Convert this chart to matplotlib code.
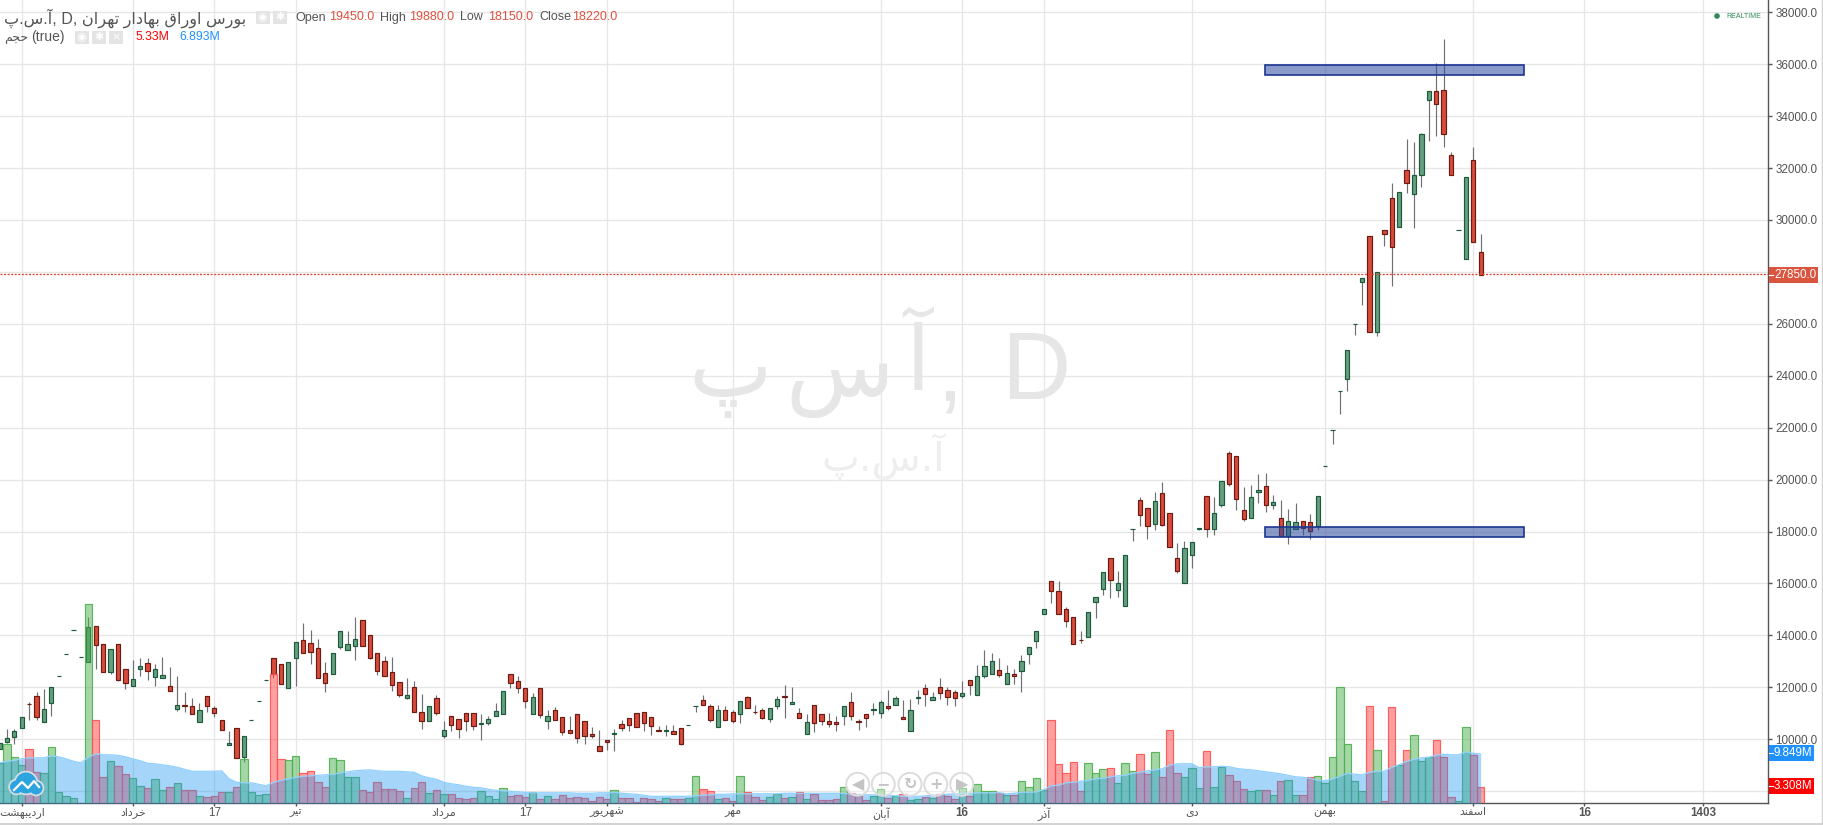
#!/usr/bin/env python3
# Daily candlestick chart with volume panel, TradingView look

import matplotlib
matplotlib.use('Agg')
import matplotlib.pyplot as plt
from matplotlib.patches import Rectangle, Circle
from matplotlib.lines import Line2D

plt.rcParams['font.family'] = ['Liberation Sans', 'DejaVu Sans']

W, H = 1823, 825

# bars are numbered so that the first month gridline is bar 0
first_bar = -3

opens = [9620, 9900, 10080, 10420, 11350, 11650, 10680, 11410, 12420, 13270, 14190, 13150,
         12960, 14350, 13650, 12600, 13650, 12690, 12060, 12720, 12920, 12410, 12370, 12040,
         11180, 11310, 11270, 10650, 11650, 11190, 10730, 9760, 10420, 9310, 10730, 11460,
         12270, 13120, 12880, 11960, 13120, 13810, 13690, 13500, 12540, 12500, 13540, 13420,
         13580, 14580, 14000, 13310, 13000, 12580, 12190, 11600, 12000, 11040, 10690, 11580,
         10120, 10880, 10770, 11000, 11000, 10580, 10620, 10880, 10960, 12500, 12230, 11960,
         10960, 11960, 10690, 11120, 10850, 10350, 10960, 10690, 10190, 9730, 9960, 10190,
         10580, 10810, 11000, 11040, 10850, 10350, 10310, 10310, 10420, 10540, 11270, 11490,
         11270, 10460, 11120, 11040, 10960, 11620, 11040, 11120, 10770, 11270, 11650, 11350,
         11000, 10190, 11310, 10960, 10690, 10650, 10890, 11420, 10690, 10960, 11120, 11000,
         11270, 11310, 10850, 10310, 11580, 11960, 11500, 12000, 11890, 11810, 11650, 12270,
         11690, 12420, 12500, 12650, 12120, 12500, 12620, 13270, 13780, 14820, 16090, 15710,
         15010, 14710, 13830, 13940, 15280, 15780, 16970, 15740, 15130, 18090, 19210, 18900,
         18280, 19470, 18710, 16970, 16010, 17090, 18090, 19360, 18090, 19010, 21010, 20900,
         18820, 18510, 19510, 19740, 19010, 18510, 17820, 18090, 18400, 18360, 18210, 20510,
         21920, 23420, 23890, 26000, 27620, 29390, 25680, 29620, 30850, 29730, 31920, 31000,
         31730, 34620, 34960, 35000, 32500, 29620, 28500, 32310, 28770]
highs = [9850, 10380, 10380, 10850, 11420, 11810, 11940, 12000, 12420, 13270, 14190, 13150,
         14690, 14350, 13650, 13460, 13650, 12690, 13050, 13130, 13120, 12900, 13170, 12770,
         12440, 11820, 11580, 11400, 11650, 11280, 10730, 10320, 10420, 10120, 10730, 11460,
         12270, 13120, 12880, 12960, 13730, 14460, 14190, 13850, 12960, 13310, 14150, 14150,
         14690, 14580, 14000, 13310, 13210, 13150, 12190, 12350, 12230, 11730, 11270, 11690,
         10700, 10880, 10770, 11000, 11000, 10960, 10880, 11380, 11850, 12500, 12420, 11960,
         11770, 11960, 11120, 11230, 10850, 10900, 10960, 10690, 10470, 10350, 9960, 10380,
         10730, 10810, 11000, 11040, 10850, 10510, 10540, 10540, 10420, 10540, 11270, 11690,
         11350, 11310, 11270, 11120, 11460, 11650, 11310, 11190, 11190, 11650, 12080, 12000,
         11190, 10960, 11310, 10960, 11000, 10890, 11270, 11810, 10770, 10960, 11390, 11500,
         11890, 11650, 11500, 11540, 11890, 12130, 11820, 12350, 12000, 11890, 12230, 12270,
         12860, 13440, 13310, 13120, 12860, 12690, 13240, 13550, 14170, 15010, 16090, 16090,
         15090, 14710, 14180, 14900, 15470, 16440, 16970, 16470, 17090, 18090, 19320, 18900,
         19530, 19900, 18710, 17550, 17630, 17590, 18130, 19360, 19320, 19940, 21090, 20900,
         19710, 19780, 20210, 20240, 19400, 19210, 18860, 19090, 18400, 18670, 19360, 20510,
         21920, 23420, 25000, 26000, 27770, 29390, 28000, 29620, 31440, 31080, 33120, 33000,
         33350, 34960, 36040, 36960, 32620, 29620, 31650, 32810, 29450]
lows = [9620, 9850, 9820, 10420, 10740, 10740, 10680, 10900, 12420, 13270, 14190, 13150,
        12960, 12700, 12600, 12530, 12260, 11950, 12060, 12450, 12280, 12050, 12370, 11850,
        11100, 11030, 10960, 10650, 11030, 10870, 10350, 9760, 9270, 9140, 10730, 11460,
        12270, 12370, 12120, 11960, 12030, 13310, 12910, 12350, 11830, 12500, 13460, 13420,
        13060, 13580, 13080, 12490, 12420, 11870, 11620, 11560, 11040, 10410, 10690, 10920,
        10030, 10330, 10060, 10330, 10350, 9950, 10560, 10880, 10960, 11990, 11760, 11220,
        10960, 10830, 10410, 10730, 10180, 10230, 9870, 9830, 10060, 9540, 9600, 9530,
        10300, 10330, 10460, 10300, 10180, 10310, 10140, 10190, 9760, 10540, 11030, 11300,
        10680, 10460, 10730, 10640, 10640, 11190, 10960, 10760, 10680, 11150, 10800, 11350,
        10830, 10190, 10260, 10560, 10450, 10300, 10530, 10720, 10370, 10470, 10950, 10800,
        11120, 11310, 10770, 10310, 11370, 11260, 11500, 11560, 11330, 11260, 11580, 11710,
        11690, 12350, 12500, 12390, 12120, 12140, 11830, 12890, 13500, 14820, 15230, 14820,
        14310, 13670, 13690, 13940, 14650, 15540, 15420, 15460, 15130, 17650, 18230, 17730,
        18040, 18210, 17400, 16420, 16010, 16580, 18040, 17770, 17850, 18940, 19740, 18820,
        18400, 18510, 19090, 18740, 18860, 17820, 17510, 18090, 17860, 17730, 18050, 20510,
        21370, 22530, 23410, 25560, 26720, 25680, 25550, 29010, 27450, 29730, 31030, 29680,
        31260, 33030, 33220, 32830, 31730, 29620, 28500, 29150, 27890]
closes = [9850, 10040, 10310, 10850, 11340, 10870, 11150, 12000, 12420, 13270, 14190, 13150,
          14310, 13640, 12600, 13460, 12290, 12180, 12310, 12810, 12620, 12690, 12460, 11850,
          11310, 11260, 10960, 11120, 11260, 10990, 10350, 9850, 9270, 10120, 10730, 11460,
          12270, 12510, 12120, 12960, 13730, 13310, 13350, 12350, 12150, 13310, 14150, 13650,
          13850, 13580, 13120, 12620, 12420, 12080, 11690, 11690, 11040, 10690, 11270, 11000,
          10350, 10540, 10380, 10690, 10500, 10620, 10770, 11080, 11850, 12150, 11960, 11460,
          11620, 10920, 10890, 10730, 10270, 10230, 10040, 10120, 10120, 9540, 9890, 10230,
          10420, 10540, 10460, 10620, 10500, 10310, 10350, 10190, 9810, 10540, 11270, 11300,
          10720, 11120, 10730, 10690, 11460, 11190, 11030, 10800, 11190, 11540, 11620, 11420,
          10830, 10650, 10620, 10690, 10580, 10580, 11270, 10890, 10650, 10810, 11150, 11420,
          11190, 11580, 10770, 11120, 11620, 11730, 11620, 11770, 11620, 11580, 11770, 12080,
          12420, 12810, 13000, 12460, 12540, 12420, 13000, 13550, 14170, 15010, 15710, 14820,
          14550, 13670, 13820, 14900, 15470, 16440, 16130, 16010, 17090, 18090, 18630, 18210,
          19170, 18240, 17400, 16470, 17360, 17590, 18130, 18090, 18710, 19940, 19820, 19240,
          18470, 19320, 19590, 19010, 19130, 17820, 18400, 18360, 18130, 18010, 19360, 20510,
          21920, 23420, 25000, 26000, 27770, 25680, 28000, 29450, 28950, 31080, 31420, 31730,
          33310, 34960, 34460, 33310, 31730, 29620, 31650, 29150, 27890]

# volume in millions
volumes = [8.1, 11.9, 9.3, 7.6, 10.9, 6.3, 6.1, 11.3, 2.3, 1.5, 1.1, 0.1,
           39.9, 16.7, 5.3, 8.5, 7.5, 5.9, 5.1, 3.5, 3.1, 4.9, 2.7, 3.3,
           4.1, 2.7, 2.7, 1.5, 1.3, 1.5, 2.3, 2.3, 3.3, 8.9, 2.3, 1.7,
           1.9, 25.9, 8.9, 8.7, 9.5, 6.1, 6.5, 4.3, 3.3, 9.1, 8.7, 5.3,
           5.3, 2.7, 2.3, 4.3, 2.9, 2.9, 2.5, 1.1, 3.1, 4.3, 2.1, 2.7,
           1.9, 1.9, 1.1, 0.9, 1.1, 2.5, 1.5, 0.9, 3.0, 1.5, 1.7, 1.3,
           2.3, 0.9, 1.5, 0.9, 1.7, 1.1, 1.3, 1.1, 0.5, 1.3, 0.9, 2.7,
           1.1, 1.1, 0.3, 1.1, 0.9, 0.5, 1.1, 0.9, 0.9, 1.1, 5.5, 2.9,
           2.5, 0.9, 1.1, 0.5, 5.5, 2.3, 1.3, 0.7, 1.3, 1.9, 1.1, 1.3,
           2.3, 0.9, 1.9, 0.7, 0.7, 0.9, 3.3, 2.1, 1.5, 0.7, 1.5, 2.9,
           1.1, 1.5, 1.9, 0.7, 0.9, 1.3, 1.1, 1.9, 1.5, 0.9, 3.1, 1.5,
           3.9, 2.5, 2.5, 2.1, 1.7, 1.7, 4.5, 3.3, 5.1, 2.7, 16.7, 7.9,
           6.1, 8.3, 2.5, 8.1, 6.1, 6.9, 7.1, 4.1, 8.1, 6.5, 9.9, 5.9,
           10.3, 5.3, 14.7, 6.1, 5.3, 7.1, 3.1, 10.5, 3.3, 7.3, 5.7, 4.5,
           2.9, 2.5, 2.7, 2.7, 1.7, 4.5, 4.7, 1.7, 1.7, 5.3, 5.5, 4.1,
           9.3, 23.3, 11.9, 4.5, 2.5, 19.5, 10.7, 0.5, 19.3, 7.7, 10.7, 13.7,
           8.5, 9.3, 12.7, 9.3, 1.3, 0.5, 15.3, 9.7, 3.308]

# volume moving average, read bar by bar
volume_ma = [8.1, 8.4, 8.6, 8.9, 9.1, 9.1, 9.1, 9.5, 9.3, 8.9, 8.4, 8.1,
             9.2, 9.9, 9.7, 9.7, 9.6, 9.3, 8.9, 8.5, 8.0, 7.9, 7.7, 7.5,
             7.2, 6.8, 6.4, 6.4, 6.4, 6.4, 6.5, 4.9, 4.2, 4.1, 4.1, 3.8,
             3.5, 4.2, 4.6, 4.9, 5.2, 5.4, 5.5, 5.6, 5.7, 5.8, 6.1, 6.3,
             6.5, 6.6, 6.7, 6.5, 6.4, 6.4, 6.4, 6.3, 6.2, 5.5, 5.1, 4.8,
             4.2, 3.9, 3.7, 3.4, 3.2, 3.1, 2.8, 2.6, 2.5, 2.4, 2.3, 2.2,
             2.1, 2.1, 2.1, 2.1, 2.1, 2.1, 2.0, 2.0, 2.0, 2.1, 2.1, 2.2,
             2.0, 1.9, 1.8, 1.6, 1.4, 1.4, 1.4, 1.4, 1.4, 1.4, 1.5, 1.6,
             1.7, 1.8, 1.8, 1.9, 1.9, 1.9, 1.9, 1.9, 1.9, 1.9, 2.0, 2.0,
             2.0, 2.0, 2.0, 2.0, 2.0, 2.0, 2.0, 1.8, 1.8, 1.7, 1.7, 1.6,
             1.6, 1.5, 1.4, 1.3, 1.4, 1.5, 1.6, 1.7, 1.8, 1.9, 2.0, 2.0,
             2.1, 2.1, 2.1, 2.1, 1.9, 2.0, 2.2, 2.2, 2.3, 2.7, 3.5, 3.6,
             4.1, 4.2, 4.4, 4.6, 4.9, 5.0, 5.3, 5.5, 5.6, 6.0, 6.2, 6.5,
             6.7, 6.9, 7.6, 7.9, 7.9, 7.9, 7.1, 7.3, 7.3, 7.4, 7.3, 7.0,
             6.8, 6.7, 6.5, 6.3, 6.1, 5.9, 5.6, 5.3, 5.2, 5.0, 4.6, 4.5,
             4.9, 5.4, 6.0, 5.8, 5.7, 6.2, 6.4, 6.4, 7.2, 7.7, 8.4, 8.8,
             9.1, 9.2, 9.6, 9.8, 9.7, 9.7, 10.3, 10.0, 9.849]

price_ticks = list(range(8000, 38001, 2000))
time_ticks = [0, 15, 26, 37, 57, 68, 79, 96, 116, 127, 138, 158, 176, 196, 211, 227]
time_labels = ['اردیبهشت', 'خرداد', '17', 'تیر', 'مرداد', '17', 'شهریور', 'مهر',
               'آبان', '16', 'آذر', 'دی', 'بهمن', 'اسفند', '16', '1403']

# the two support / resistance boxes: (first bar, last bar, low price, high price)
zone_high = (167.9, 202.9, 35573, 35958)
zone_low = (167.9, 202.9, 17777, 18162)

last_price_drawn = 27920

# matplotlib has no Arabic shaping, so pick the joined letter forms by hand
FORMS = {'ا': (0xFE8D, 0xFE8E), 'آ': (0xFE81, 0xFE82), 'د': (0xFEA9, 0xFEAA),
         'ذ': (0xFEAB, 0xFEAC), 'ر': (0xFEAD, 0xFEAE), 'ز': (0xFEAF, 0xFEB0),
         'و': (0xFEED, 0xFEEE),
         'ب': (0xFE8F, 0xFE90, 0xFE91, 0xFE92), 'پ': (0xFB56, 0xFB57, 0xFB58, 0xFB59),
         'ت': (0xFE95, 0xFE96, 0xFE97, 0xFE98), 'ج': (0xFE9D, 0xFE9E, 0xFE9F, 0xFEA0),
         'ح': (0xFEA1, 0xFEA2, 0xFEA3, 0xFEA4), 'خ': (0xFEA5, 0xFEA6, 0xFEA7, 0xFEA8),
         'س': (0xFEB1, 0xFEB2, 0xFEB3, 0xFEB4), 'ش': (0xFEB5, 0xFEB6, 0xFEB7, 0xFEB8),
         'ف': (0xFED1, 0xFED2, 0xFED3, 0xFED4), 'ق': (0xFED5, 0xFED6, 0xFED7, 0xFED8),
         'م': (0xFEE1, 0xFEE2, 0xFEE3, 0xFEE4), 'ن': (0xFEE5, 0xFEE6, 0xFEE7, 0xFEE8),
         'ه': (0xFEE9, 0xFEEA, 0xFEEB, 0xFEEC), 'ی': (0xFBFC, 0xFBFD, 0xFBFE, 0xFBFF)}


def fa(text):
    # digits stay in reading order
    if text.isdigit():
        return text
    out = []
    for k, ch in enumerate(text):
        if ch not in FORMS:
            out.append(ch)
            continue
        prev = text[k - 1] if k > 0 else ''
        nxt = text[k + 1] if k + 1 < len(text) else ''
        join_prev = prev in FORMS and len(FORMS[prev]) == 4
        join_next = nxt in FORMS and len(FORMS[ch]) == 4
        forms = FORMS[ch]
        if join_prev and join_next:
            out.append(chr(forms[3]))
        elif join_prev:
            out.append(chr(forms[1]))
        elif join_next:
            out.append(chr(forms[2]))
        else:
            out.append(chr(forms[0]))
    return ''.join(reversed(out))


def fx(x):
    return x / W


def fy(y):
    return 1 - y / H


fig = plt.figure(figsize=(W / 100, H / 100), dpi=100, facecolor='white')
ax = fig.add_axes([0, 1 - 803.3 / H, 1768.3 / W, 803.3 / H])
ax.set_xlim(-2.93, 235.84)
ax.set_ylim(7530, 38474)

# volume on its own scale, same box (twinx moves the price ticks, so set them after)
ax_vol = ax.twinx()
ax_vol.set_ylim(0, 803.3 / 5)
ax_vol.set_yticks([])
for side in ax_vol.spines:
    ax_vol.spines[side].set_visible(False)
ax_vol.patch.set_visible(False)

ax.set_yticks(price_ticks)
ax.set_yticklabels(['' if p == 8000 else '%d.0' % p for p in price_ticks],
                   fontsize=8.4, color='#555555')
ax.yaxis.tick_right()
ax.tick_params(axis='y', length=3.2, width=1, color='#555555', pad=2)
ax.set_xticks(time_ticks)
ax.set_xticklabels([fa(t) for t in time_labels], color='#555555', fontsize=8)
for lab, t in zip(ax.get_xticklabels(), time_labels):
    if t.isdigit():
        lab.set_fontsize(8.4)
        lab.set_fontweight('bold' if t != '17' else 'normal')
ax.tick_params(axis='x', length=2.2, width=1, color='#555555', pad=0.5)
ax.grid(True, color='#e6e6e6', linewidth=0.9)
ax.set_axisbelow(True)
for side in ['top', 'left']:
    ax.spines[side].set_visible(False)
for side in ['right', 'bottom']:
    ax.spines[side].set_color('#555555')
    ax.spines[side].set_linewidth(1.0)

# watermark sits under the candles
wm_color = '#e6e6e6'
ax.text(fx(1036), fy(374), 'D', transform=fig.transFigure, fontsize=69, color=wm_color,
        ha='center', va='center', zorder=1)
ax.text(fx(950), fy(375), ',', transform=fig.transFigure, fontsize=69, color=wm_color,
        ha='center', va='center', zorder=1)
ax.text(fx(918), fy(366), 'آ', transform=fig.transFigure, fontsize=64, color=wm_color,
        family='DejaVu Sans', ha='center', va='center', zorder=1)
ax.text(fx(840), fy(374), fa('س'), transform=fig.transFigure, fontsize=64, color=wm_color,
        family='DejaVu Sans', ha='center', va='center', zorder=1)
ax.text(fx(730), fy(374), fa('پ'), transform=fig.transFigure, fontsize=64, color=wm_color,
        family='DejaVu Sans', ha='center', va='center', zorder=1)
ax.text(fx(883), fy(457), fa('آ.س.پ'), transform=fig.transFigure, fontsize=29, color='#eeeeee',
        family='DejaVu Sans', ha='center', va='center', zorder=1)

# candles
xs = [first_bar + k for k in range(len(opens))]
up_fill, up_edge = '#659f80', '#1d5a3c'
down_fill, down_edge = '#d84b3a', '#6b1b14'
is_up = [c >= o for o, c in zip(opens, closes)]

ax.vlines(xs, lows, highs, color='#707070', linewidth=0.85, zorder=2)
ax.bar(xs, [abs(c - o) for o, c in zip(opens, closes)],
       bottom=[min(o, c) for o, c in zip(opens, closes)], width=0.58,
       color=[up_fill if u else down_fill for u in is_up],
       edgecolor=[up_edge if u else down_edge for u in is_up], linewidth=0.85, zorder=2.5)

# last price line
ax.axhline(last_price_drawn, color='#e0432f', linewidth=0.95, linestyle=(0, (1.5, 1.2)), zorder=3)

# zones
for first, last, low, high in [zone_high, zone_low]:
    ax.add_patch(Rectangle((first, low), last - first, high - low, facecolor='#2b4aa0',
                           edgecolor='none', alpha=0.55, zorder=6))
    ax.add_patch(Rectangle((first, low), last - first, high - low, facecolor='none',
                           edgecolor='#1c3590', linewidth=1.2, zorder=6))

# volume bars and their moving average
ax_vol.bar(xs, volumes, width=1.0,
           color=[(0.30, 0.69, 0.31, 0.5) if u else (1.0, 0.32, 0.32, 0.55) for u in is_up],
           edgecolor=[(0.30, 0.69, 0.31, 0.9) if u else (1.0, 0.32, 0.32, 0.9) for u in is_up],
           linewidth=0.85, zorder=3)
ax_vol.fill_between(xs, volume_ma, 0, color='#2196f3', alpha=0.40, linewidth=0, zorder=4)
ax_vol.plot(xs, volume_ma, color='#8fd0ff', linewidth=0.9, zorder=4)

# price tags on the axis
tags = [('27850.0', 266.7, 282.7, 1818, '#d9553f'),
        ('9.849M', 745, 761, 1814, '#1e90ff'),
        ('3.308M', 778, 794.3, 1814, '#ff0000')]
for label, y0, y1, x1, col in tags:
    fig.add_artist(Rectangle((fx(1768.5), fy(y1)), fx(x1 - 1768.5), (y1 - y0) / H,
                             transform=fig.transFigure, facecolor=col, edgecolor='none', zorder=10))
    fig.add_artist(Line2D([fx(1768.5), fx(1772.5)], [fy((y0 + y1) / 2)] * 2, color='white',
                          linewidth=0.8, zorder=11))
    fig.text(fx(1774), fy((y0 + y1) / 2 + 0.3), label, color='white', fontsize=8.4, ha='left',
             va='center', zorder=11)

# legend lines at the top left
fig.text(fx(4), fy(18), fa('آ.س.پ') + ', D, ' + fa('بورس اوراق بهادار تهران'),
         fontsize=11.6, color='#555555', ha='left', va='center')
legend_items = [('Open', 295, '#555555'), ('19450.0', 329, '#e0523f'),
                ('High', 380, '#555555'), ('19880.0', 409, '#e0523f'),
                ('Low', 460, '#555555'), ('18150.0', 488, '#e0523f'),
                ('Close', 539, '#555555'), ('18220.0', 572, '#e0523f')]
for label, x, col in legend_items:
    fig.text(fx(x), fy(17.5), label, fontsize=9, color=col, ha='left', va='center')
fig.text(fx(4), fy(38.5), fa('حجم'), fontsize=9, color='#555555', ha='left', va='center')
fig.text(fx(31), fy(37.5), '(true)', fontsize=10, color='#555555', ha='left', va='center')
fig.text(fx(135), fy(37.5), '5.33M', fontsize=8.8, color='#ff0000', ha='left', va='center')
fig.text(fx(179), fy(37.5), '6.893M', fontsize=8.8, color='#1e90ff', ha='left', va='center')

# small grey option buttons
icon_boxes = [(256, 11), (273, 11), (75, 31), (92, 31), (109, 31)]
icon_glyphs = ['◉', '✱', '◉', '✱', '×']
for (bx, by), glyph in zip(icon_boxes, icon_glyphs):
    fig.add_artist(Rectangle((fx(bx), fy(by + 13)), fx(13.5), 13 / H, transform=fig.transFigure,
                             facecolor='#e4e4e4', edgecolor='none', zorder=9))
    fig.text(fx(bx + 6.7), fy(by + 6.5), glyph, color='white', fontsize=8, family='DejaVu Sans',
             ha='center', va='center', zorder=10)

# realtime badge
fig.add_artist(Circle((1717, H - 16), 2.8, transform=None, facecolor='#2e8b57', edgecolor='none', zorder=9))
fig.text(fx(1726), fy(16.2), 'REALTIME', color='#2e8b57', fontsize=5, ha='left', va='center')

# chart navigation buttons
nav_x = [857.7, 883.3, 910, 935.7, 961.7]
nav_glyphs = ['◀', '−', '↻', '+', '▶']
for nx, glyph in zip(nav_x, nav_glyphs):
    fig.add_artist(Circle((nx, H - 784.3), 11.5, transform=None, facecolor=(1, 1, 1, 0.35),
                          edgecolor='#dcdcdc', linewidth=1.4, zorder=9))
    fig.text(fx(nx), fy(784.6), glyph, color='#c4c4c4', fontsize=11.5, fontweight='bold',
             family='DejaVu Sans', ha='center', va='center', zorder=10)

# logo cloud bottom left
cloud = [(16.5, 787, 6.5), (26, 783, 10.5), (36, 788, 6.5)]
for cx, cy, r in cloud:
    fig.add_artist(Circle((cx, H - cy), r + 1.8, transform=None, facecolor='#d5dde0', edgecolor='none', zorder=8))
for cx, cy, r in cloud:
    fig.add_artist(Circle((cx, H - cy), r, transform=None, facecolor='#2ba4e0', edgecolor='none', zorder=8.5))
fig.add_artist(Line2D([fx(14), fx(22), fx(28), fx(34), fx(39)],
                      [fy(790), fy(782), fy(788), fy(781), fy(787)], color='white', linewidth=1.6, zorder=9))

# outer frame of the widget
fig.add_artist(Line2D([0, fx(1822)], [fy(824), fy(824)], color='#d2d2d2', linewidth=1.4, zorder=12))
fig.add_artist(Line2D([fx(1821.7), fx(1821.7)], [0, 1], color='#d2d2d2', linewidth=1.0, zorder=12))

fig.savefig('out.png', dpi=100, facecolor='white')
